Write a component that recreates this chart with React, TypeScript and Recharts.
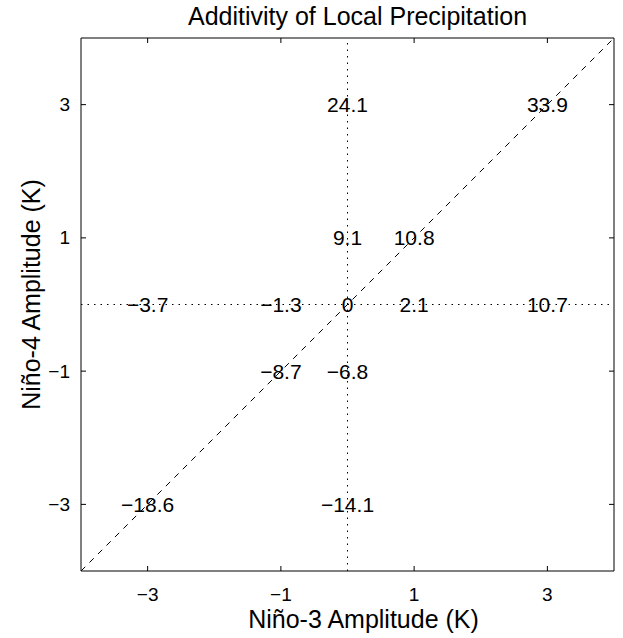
import React from 'react';
import { ScatterChart, Scatter, XAxis, YAxis, ReferenceLine } from 'recharts';

// label grid: Niño-3 amplitude (x), Niño-4 amplitude (y), precipitation value
const nino3 = [0, 3, 0, 1, -3, -1, 0, 1, 3, -1, 0, -3, 0];
const nino4 = [3, 3, 1, 1, 0, 0, 0, 0, 0, -1, -1, -3, -3];
const precip = [24.1, 33.9, 9.1, 10.8, -3.7, -1.3, 0, 2.1, 10.7, -8.7, -6.8, -18.6, -14.1];

const axisTicks = [-3, -1, 1, 3];
const axisDomain = [-4, 4];

const points = precip.map((v, i) => ({ x: nino3[i], y: nino4[i], v }));

const FONT = '"Liberation Sans", Arial, Helvetica, sans-serif';
const TICK_LEN = 5;

// matlab-ish minus sign
const fmt = (n: number) => String(n).replace('-', '\u2212');

function BottomTick({ x, y, payload }: any) {
  return (
    <g>
      <line x1={x} x2={x} y1={y} y2={y - TICK_LEN} stroke="#000" />
      <text x={x} y={y + 23} textAnchor="middle" dominantBaseline="central" fontSize={19} fontFamily={FONT} fill="#000">
        {fmt(payload.value)}
      </text>
    </g>
  );
}

function TopTick({ x, y }: any) {
  return <line x1={x} x2={x} y1={y} y2={y + TICK_LEN} stroke="#000" />;
}

function LeftTick({ x, y, payload }: any) {
  return (
    <g>
      <line x1={x} x2={x + TICK_LEN} y1={y} y2={y} stroke="#000" />
      <text x={x - 11} y={y} textAnchor="end" dominantBaseline="central" fontSize={19} fontFamily={FONT} fill="#000">
        {fmt(payload.value)}
      </text>
    </g>
  );
}

function RightTick({ x, y }: any) {
  return <line x1={x} x2={x - TICK_LEN} y1={y} y2={y} stroke="#000" />;
}

function ValueLabel({ cx, cy, payload }: any) {
  return (
    <text x={cx} y={cy} textAnchor="middle" dominantBaseline="central" fontSize={21} fontFamily={FONT} fill="#000">
      {fmt(payload.v)}
    </text>
  );
}

function TitleLabel({ viewBox }: any) {
  const { x, y, width } = viewBox;
  return (
    <text x={x + width / 2 + 10} y={y - 12} textAnchor="middle" fontSize={25} fontFamily={FONT} fill="#000">
      Additivity of Local Precipitation
    </text>
  );
}

function XLabel({ viewBox }: any) {
  const { x, y, width } = viewBox;
  return (
    <text x={x + width / 2 + 16} y={y + 57} textAnchor="middle" fontSize={25} fontFamily={FONT} fill="#000">
      Niño-3 Amplitude (K)
    </text>
  );
}

function YLabel({ viewBox }: any) {
  const { x, y, height } = viewBox;
  const cx = x - 40;
  const cy = y + height / 2 - 10;
  return (
    <text x={cx} y={cy} transform={`rotate(-90 ${cx} ${cy})`} textAnchor="middle" fontSize={25} fontFamily={FONT} fill="#000">
      Niño-4 Amplitude (K)
    </text>
  );
}

export default function App() {
  return (
    <div style={{ position: 'absolute', left: 0, top: 0, width: 623, height: 638, background: '#fff' }}>
      <ScatterChart width={623} height={638} margin={{ top: 37, right: 8, bottom: 66, left: 80 }}>
        <XAxis
          xAxisId={0}
          type="number"
          dataKey="x"
          domain={axisDomain}
          ticks={axisTicks}
          allowDataOverflow
          height={1}
          tickSize={0}
          tickMargin={0}
          tickLine={false}
          tick={<BottomTick />}
          axisLine={{ stroke: '#000' }}
          label={<XLabel />}
        />
        <XAxis
          xAxisId="top"
          orientation="top"
          type="number"
          dataKey="x"
          domain={axisDomain}
          ticks={axisTicks}
          allowDataOverflow
          height={1}
          tickSize={0}
          tickMargin={0}
          tickLine={false}
          tick={<TopTick />}
          axisLine={{ stroke: '#000' }}
          label={<TitleLabel />}
        />
        <YAxis
          yAxisId={0}
          type="number"
          dataKey="y"
          domain={axisDomain}
          ticks={axisTicks}
          allowDataOverflow
          width={1}
          tickSize={0}
          tickMargin={0}
          tickLine={false}
          tick={<LeftTick />}
          axisLine={{ stroke: '#000' }}
          label={<YLabel />}
        />
        <YAxis
          yAxisId="right"
          orientation="right"
          type="number"
          dataKey="y"
          domain={axisDomain}
          ticks={axisTicks}
          allowDataOverflow
          width={1}
          tickSize={0}
          tickMargin={0}
          tickLine={false}
          tick={<RightTick />}
          axisLine={{ stroke: '#000' }}
        />
        <ReferenceLine x={0} stroke="#000" strokeDasharray="1.5 5" />
        <ReferenceLine y={0} stroke="#000" strokeDasharray="1.5 5" />
        <ReferenceLine
          segment={[{ x: axisDomain[0], y: axisDomain[0] }, { x: axisDomain[1], y: axisDomain[1] }]}
          stroke="#000"
          strokeDasharray="6 6"
        />
        <Scatter data={points} shape={<ValueLabel />} isAnimationActive={false} />
      </ScatterChart>
    </div>
  );
}
